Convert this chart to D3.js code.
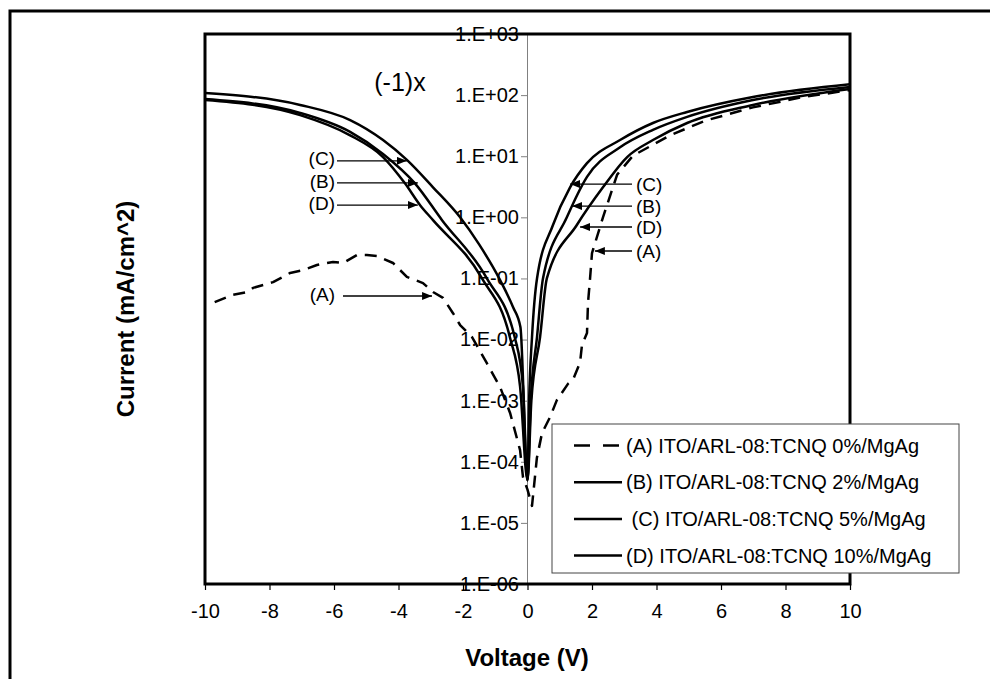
<!DOCTYPE html>
<meta charset="utf-8">
<body style="margin:0; background:#fff; overflow:hidden">
<script src="https://cdn.jsdelivr.net/npm/d3@7"></script>
<script>

// voltage (V), |current| (mA/cm^2) -- values on the negative side are (-1)x
var curveA = [[-9.7,0.041],[-9.13,0.054],[-8.67,0.060],[-8.51,0.070],[-7.89,0.087],[-7.36,0.123],
              [-6.96,0.137],[-6.53,0.166],[-6.03,0.186],[-5.72,0.179],[-5.29,0.242],[-4.98,0.242],
              [-4.67,0.233],[-4.17,0.179],[-3.74,0.106],[-3.24,0.084],[-2.93,0.060],[-2.62,0.048],
              [-2.31,0.027],[-2.09,0.0173],[-1.72,0.011],[-1.26,0.0041],[-0.85,0.00167],[-0.54,0.00063],
              [-0.23,0.000155],[-0.14,0.000056],[0,0.000035],[0.14,0.000019],[0.29,0.000115],
              [0.45,0.000295],[0.70,0.00054],[0.91,0.00102],[1.26,0.0019],[1.41,0.0022],[1.63,0.0042],
              [1.69,0.0082],[1.845,0.0128],[1.876,0.040],[1.94,0.10],[2.0,0.26],[2.34,1.0],[2.78,5.0],
              [3.27,10.2],[4.42,22],[5.5,38],[6.99,63],[8.5,92],[10,121]];
var curveB = [[-10,86],[-7.05,51],[-5.5,25],[-4.48,10.9],[-3.49,3.6],[-2.65,0.9],
              [-1.26,0.10],[-0.39,0.0106],[-0.14,0.0017],[0,0.00005],
              [0.1,0.001],[0.295,0.011],[0.48,0.1],[1.22,1.0],[1.845,4.6],[2.87,14],[3.89,27],
              [4.95,44],[6.99,83],[10,136]];
var curveC = [[-10,108],[-7.05,69],[-5.5,39],[-4.48,18.4],[-3.74,8.7],[-2.93,3.1],[-2.09,1.0],
              [-1.5,0.36],[-0.85,0.094],[-0.45,0.034],[-0.22,0.016],[0,0.00005],
              [0.05,0.001],[0.14,0.011],[0.295,0.1],[0.79,0.75],[1.32,3.1],[1.845,7.7],[2.87,18.4],
              [3.89,35],[4.95,53],[6.99,93],[10,150]];
var curveD = [[-10,83],[-7.05,47],[-5.5,22],[-4.48,9.7],[-3.8,3.6],[-3.33,1.58],[-2.93,0.9],
              [-1.41,0.10],[-0.54,0.0106],[-0.23,0.0017],[0,0.00005],
              [0.12,0.001],[0.39,0.011],[0.6,0.1],[1.53,0.75],[2.34,3.1],[3.09,9.7],[3.89,18.4],
              [4.95,35],[6.99,69],[10,126]];

var legendLabels = ["(A) ITO/ARL-08:TCNQ 0%/MgAg", "(B) ITO/ARL-08:TCNQ 2%/MgAg",
                    " (C) ITO/ARL-08:TCNQ 5%/MgAg", "(D) ITO/ARL-08:TCNQ 10%/MgAg"];

var xTicks = [-10,-8,-6,-4,-2,0,2,4,6,8,10];
var yTicks = [1e-6,1e-5,1e-4,1e-3,1e-2,1e-1,1e0,1e1,1e2,1e3];
var yTickLabels = ["1.E-06","1.E-05","1.E-04","1.E-03","1.E-02","1.E-01","1.E+00","1.E+01","1.E+02","1.E+03"];

// arrow tips in data units
var leftNotes  = [{label:"(C)", v:-3.74, i:8.4},  {label:"(B)", v:-3.40, i:3.65},
                  {label:"(D)", v:-3.40, i:1.59}, {label:"(A)", v:-2.96, i:0.0516}];
var rightNotes = [{label:"(C)", v:1.32, i:3.5},   {label:"(B)", v:1.38, i:1.53},
                  {label:"(D)", v:1.63, i:0.695}, {label:"(A)", v:2.09, i:0.281}];

var font = "Arial, 'Liberation Sans', sans-serif";
var W = 992, H = 679;

var svg = d3.select("body").append("svg")
    .attr("width", W).attr("height", H)
    .style("display", "block")
    .attr("font-family", font);

var x = d3.scaleLinear().domain([-10, 10]).range([205, 850]);
var y = d3.scaleLog().domain([1e-6, 1e3]).range([584, 34]);

// outer frame (only top and left visible)
svg.append("path").attr("d", "M10,682V11H990")
   .attr("fill", "none").attr("stroke", "#000").attr("stroke-width", 3);

svg.append("defs").append("marker")
   .attr("id", "arr").attr("markerUnits", "userSpaceOnUse")
   .attr("markerWidth", 11).attr("markerHeight", 8)
   .attr("refX", 10).attr("refY", 4).attr("orient", "auto")
   .append("path").attr("d", "M0,0L10,4L0,8Z").attr("fill", "#000");

// y axis sits at V = 0
var yAxis = svg.append("g")
   .attr("transform", "translate(" + (x(0) - 0.5) + ",0)")
   .call(d3.axisLeft(y).tickValues(yTicks).tickSizeOuter(0).tickSize(6).tickPadding(2)
          .tickFormat((d, i) => yTickLabels[i]));
yAxis.select(".domain").attr("stroke", "#808080");
yAxis.selectAll(".tick line").attr("stroke", "#808080");
yAxis.selectAll("text").attr("font-size", 20).attr("fill", "#000").attr("font-family", font);

var xAxis = svg.append("g")
   .attr("transform", "translate(0,584)")
   .call(d3.axisBottom(x).tickValues(xTicks).tickSize(6).tickPadding(14).tickSizeOuter(0)
          .tickFormat(d => String(d)));
xAxis.select(".domain").remove();
xAxis.selectAll(".tick line").attr("stroke", "#000").attr("stroke-width", 1.2);
xAxis.selectAll("text").attr("font-size", 20).attr("fill", "#000").attr("font-family", font);

var line = d3.line().x(d => x(d[0])).y(d => y(d[1]));
var smooth = d3.line().x(d => x(d[0])).y(d => y(d[1])).curve(d3.curveMonotoneX);

var curves = svg.append("g").attr("fill", "none").attr("stroke", "#000")
                .attr("stroke-width", 2.5).attr("stroke-linejoin", "round");
[curveD, curveB, curveC].forEach(function(c) {
    curves.append("path").attr("d", smooth(c));
});
curves.append("path").attr("d", line(curveA)).attr("stroke-dasharray", "12,8");

// plot area border
svg.append("rect").attr("x", 205).attr("y", 34).attr("width", 645).attr("height", 550)
   .attr("fill", "none").attr("stroke", "#000").attr("stroke-width", 3);

// annotations
svg.append("text").attr("x", 400).attr("y", 91).attr("text-anchor", "middle")
   .attr("font-size", 25).text("(-1)x");

var notes = svg.append("g").attr("font-size", 19);
leftNotes.forEach(function(n) {
    var ty = y(n.i), tail = n.label == "(A)" ? 343 : 337;
    notes.append("line").attr("x1", tail).attr("y1", ty).attr("x2", x(n.v)).attr("y2", ty)
         .attr("stroke", "#000").attr("stroke-width", 1.3).attr("marker-end", "url(#arr)");
    notes.append("text").attr("x", 335).attr("y", ty - 2).attr("dy", "0.35em")
         .attr("text-anchor", "end").text(n.label);
});
rightNotes.forEach(function(n) {
    var ty = y(n.i);
    notes.append("line").attr("x1", 632).attr("y1", ty).attr("x2", x(n.v)).attr("y2", ty)
         .attr("stroke", "#000").attr("stroke-width", 1.3).attr("marker-end", "url(#arr)");
    notes.append("text").attr("x", 636).attr("y", ty).attr("dy", "0.35em").text(n.label);
});

// axis titles
svg.append("text").attr("x", 527).attr("y", 666).attr("text-anchor", "middle")
   .attr("font-size", 24).attr("font-weight", "bold").text("Voltage (V)");
svg.append("text").attr("transform", "translate(134,309) rotate(-90)")
   .attr("text-anchor", "middle").attr("font-size", 24).attr("font-weight", "bold")
   .text("Current (mA/cm^2)");

// legend
var lg = svg.append("g").attr("transform", "translate(552,424)");
lg.append("rect").attr("width", 407).attr("height", 149)
  .attr("fill", "#fff").attr("stroke", "#444").attr("stroke-width", 1);
legendLabels.forEach(function(t, i) {
    var ly = 21.5 + i * 36.7;
    lg.append("line").attr("x1", 22).attr("x2", 70).attr("y1", ly).attr("y2", ly)
      .attr("stroke", "#000").attr("stroke-width", 2.5)
      .attr("stroke-dasharray", i == 0 ? "16,13" : null);
    lg.append("text").attr("x", 74).attr("y", ly).attr("dy", "0.35em")
      .attr("font-size", 20).style("white-space", "pre").text(t);
});

</script>
</body>
